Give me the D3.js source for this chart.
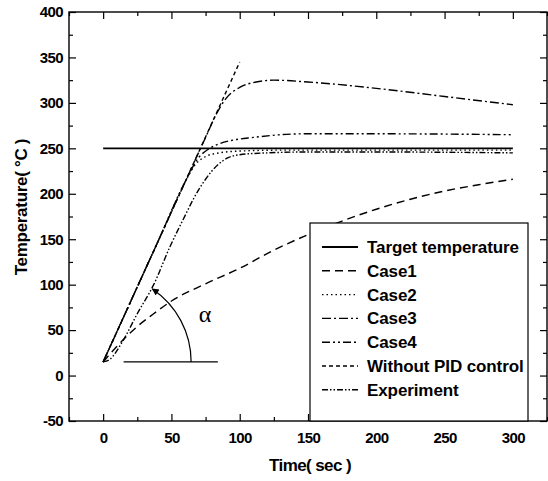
<!DOCTYPE html>
<html lang="en">
<head>
  <meta charset="UTF-8">
  <title>Temperature</title>
  <style>
    body { margin: 0; background: #fff; }
    text { font-family: "Liberation Sans", Arial, sans-serif; font-weight: bold; }
  </style>
</head>
<body>
<script src="https://d3js.org/d3.v7.min.js"></script>
<script>
  // data: [time (sec), temperature (°C)]
  var target = [[0, 250], [300, 250]];
  var case1 = [[0, 15], [10, 32], [25, 54], [37, 68], [50, 82], [75, 101], [100, 118], [125, 138], [150, 155],
               [175, 170], [200, 183], [225, 194], [250, 203], [275, 210], [300, 216]];
  var case2 = [[0, 15], [20, 81], [40, 147], [60, 213], [68, 233], [75, 241], [85, 245], [100, 247],
               [130, 248], [200, 248], [300, 248]];
  var case3 = [[0, 15], [20, 81], [40, 147], [60, 213], [75, 262], [83, 288], [90, 305], [100, 317],
               [112, 323], [125, 325], [150, 323], [200, 316], [250, 307], [300, 298]];
  var case4 = [[0, 15], [20, 81], [40, 147], [60, 213], [70, 240], [77, 249], [85, 255], [95, 259],
               [110, 262], [130, 265], [150, 266], [200, 266], [300, 265]];
  var noPid = [[0, 15], [100, 345]];
  var experiment = [[0, 15], [5, 18], [14, 37], [25, 68], [37, 100], [49, 142], [60, 176], [66, 194],
                    [75, 216], [84, 232], [92, 240], [100, 243], [120, 245], [150, 246], [200, 246], [300, 245]];

  var seriesNames = ["Target temperature", "Case1", "Case2", "Case3", "Case4", "Without PID control", "Experiment"];
  var seriesData = [target, case1, case2, case3, case4, noPid, experiment];
  var dashes = ["none", "8,5", "1.5,3", "9,3,2,3", "8,3,2,3,2,3", "4,3", "6,2,1.5,2,1.5,2"];

  var xTicks = [0, 50, 100, 150, 200, 250, 300];
  var yTicks = [-50, 0, 50, 100, 150, 200, 250, 300, 350, 400];
  var alphaBase = [[15, 15], [84, 15]];   // horizontal leg of the angle mark

  var W = 548, H = 481;
  var x = d3.scaleLinear().domain([-25, 325]).range([69, 547]);
  var y = d3.scaleLinear().domain([-50, 400]).range([421, 12]);

  var svg = d3.select("body").append("svg")
    .attr("width", W).attr("height", H);

  var xMinor = d3.range(-25, 326, 25).filter(function(v) { return xTicks.indexOf(v) < 0; });
  var yMinor = d3.range(-50, 401, 25).filter(function(v) { return yTicks.indexOf(v) < 0; });
  var plain = function(d) { return String(d); };   // keep the hyphen in "-50"

  // axes, ticks pointing inwards on all four sides
  function styleAxis(g) {
    g.select(".domain").remove();
    g.selectAll("line").attr("stroke", "#000").attr("stroke-width", 1.2);
    g.selectAll("text").attr("font-size", "15px").attr("letter-spacing", "-0.6px").attr("fill", "#000");
  }

  svg.append("g").attr("transform", "translate(0," + y(-50) + ")")
    .call(d3.axisBottom(x).tickValues(xTicks).tickSize(-7).tickPadding(11).tickFormat(plain))
    .call(styleAxis);
  svg.append("g").attr("transform", "translate(0," + y(-50) + ")")
    .call(d3.axisBottom(x).tickValues(xMinor).tickSize(-4).tickFormat(""))
    .call(styleAxis);
  svg.append("g").attr("transform", "translate(0," + y(400) + ")")
    .call(d3.axisTop(x).tickValues(xTicks).tickSize(-7).tickFormat(""))
    .call(styleAxis);
  svg.append("g").attr("transform", "translate(0," + y(400) + ")")
    .call(d3.axisTop(x).tickValues(xMinor).tickSize(-4).tickFormat(""))
    .call(styleAxis);

  svg.append("g").attr("transform", "translate(" + x(-25) + ",0)")
    .call(d3.axisLeft(y).tickValues(yTicks).tickSize(-7).tickPadding(6).tickFormat(plain))
    .call(styleAxis);
  svg.append("g").attr("transform", "translate(" + x(-25) + ",0)")
    .call(d3.axisLeft(y).tickValues(yMinor).tickSize(-4).tickFormat(""))
    .call(styleAxis);
  svg.append("g").attr("transform", "translate(" + x(325) + ",0)")
    .call(d3.axisRight(y).tickValues(yTicks).tickSize(-7).tickFormat(""))
    .call(styleAxis);
  svg.append("g").attr("transform", "translate(" + x(325) + ",0)")
    .call(d3.axisRight(y).tickValues(yMinor).tickSize(-4).tickFormat(""))
    .call(styleAxis);

  svg.append("rect")
    .attr("x", x(-25)).attr("y", y(400))
    .attr("width", x(325) - x(-25)).attr("height", y(-50) - y(400))
    .attr("fill", "none").attr("stroke", "#000").attr("stroke-width", 1.4);

  // axis titles
  svg.append("text")
    .attr("x", 310).attr("y", 471)
    .attr("text-anchor", "middle")
    .attr("font-size", "17px").attr("letter-spacing", "-0.6px")
    .text("Time( sec )");

  svg.append("text")
    .attr("transform", "translate(27,207) rotate(-90)")
    .attr("text-anchor", "middle")
    .attr("font-size", "17px").attr("letter-spacing", "-0.3px")
    .text("Temperature( °C )");

  // curves
  var line = d3.line()
    .x(function(d) { return x(d[0]); })
    .y(function(d) { return y(d[1]); })
    .curve(d3.curveMonotoneX);

  svg.append("g").selectAll("path")
    .data(seriesData)
    .enter().append("path")
    .attr("d", line)
    .attr("fill", "none")
    .attr("stroke", "#000")
    .attr("stroke-width", function(d, i) { return i === 0 ? 1.8 : 1.4; })
    .attr("stroke-dasharray", function(d, i) { return dashes[i]; });

  // angle annotation
  svg.append("defs").append("marker")
    .attr("id", "arrow")
    .attr("viewBox", "0 0 10 10")
    .attr("refX", 9).attr("refY", 5)
    .attr("markerWidth", 9).attr("markerHeight", 7)
    .attr("markerUnits", "userSpaceOnUse")
    .attr("orient", "auto")
    .append("path").attr("d", "M0,0L10,5L0,10z").attr("fill", "#000");

  svg.append("path")
    .attr("d", d3.line()(alphaBase.map(function(d) { return [x(d[0]), y(d[1])]; })))
    .attr("stroke", "#000").attr("stroke-width", 1.3);

  var cx = x(0), cy = y(15), r = 88, a1 = 56 * Math.PI / 180;
  var arcPath = d3.path();
  arcPath.arc(cx, cy, r, 0, -a1, true);
  svg.append("path")
    .attr("d", arcPath.toString())
    .attr("fill", "none").attr("stroke", "#000").attr("stroke-width", 1.2)
    .attr("marker-end", "url(#arrow)");

  svg.append("text")
    .attr("x", 205).attr("y", 322)
    .attr("text-anchor", "middle")
    .style("font-family", "'Liberation Serif', 'DejaVu Serif', serif")
    .style("font-weight", "normal")
    .attr("font-size", "24px")
    .text("α");

  // legend
  var lg = svg.append("g");
  lg.append("rect")
    .attr("x", 310).attr("y", 223)
    .attr("width", 218).attr("height", y(-50) - 223)
    .attr("fill", "#fff").attr("stroke", "#000").attr("stroke-width", 1.2);

  var rows = lg.selectAll("g.row")
    .data(seriesNames)
    .enter().append("g")
    .attr("class", "row")
    .attr("transform", function(d, i) { return "translate(0," + (247 + i * 23.8) + ")"; });

  rows.append("line")
    .attr("x1", 322).attr("x2", 358)
    .attr("stroke", "#000")
    .attr("stroke-width", function(d, i) { return i === 0 ? 1.8 : 1.4; })
    .attr("stroke-dasharray", function(d, i) { return dashes[i]; });

  rows.append("text")
    .attr("x", 367).attr("y", 6)
    .attr("font-size", "17px").attr("letter-spacing", "-0.1px")
    .text(function(d) { return d; });
</script>
</body>
</html>
